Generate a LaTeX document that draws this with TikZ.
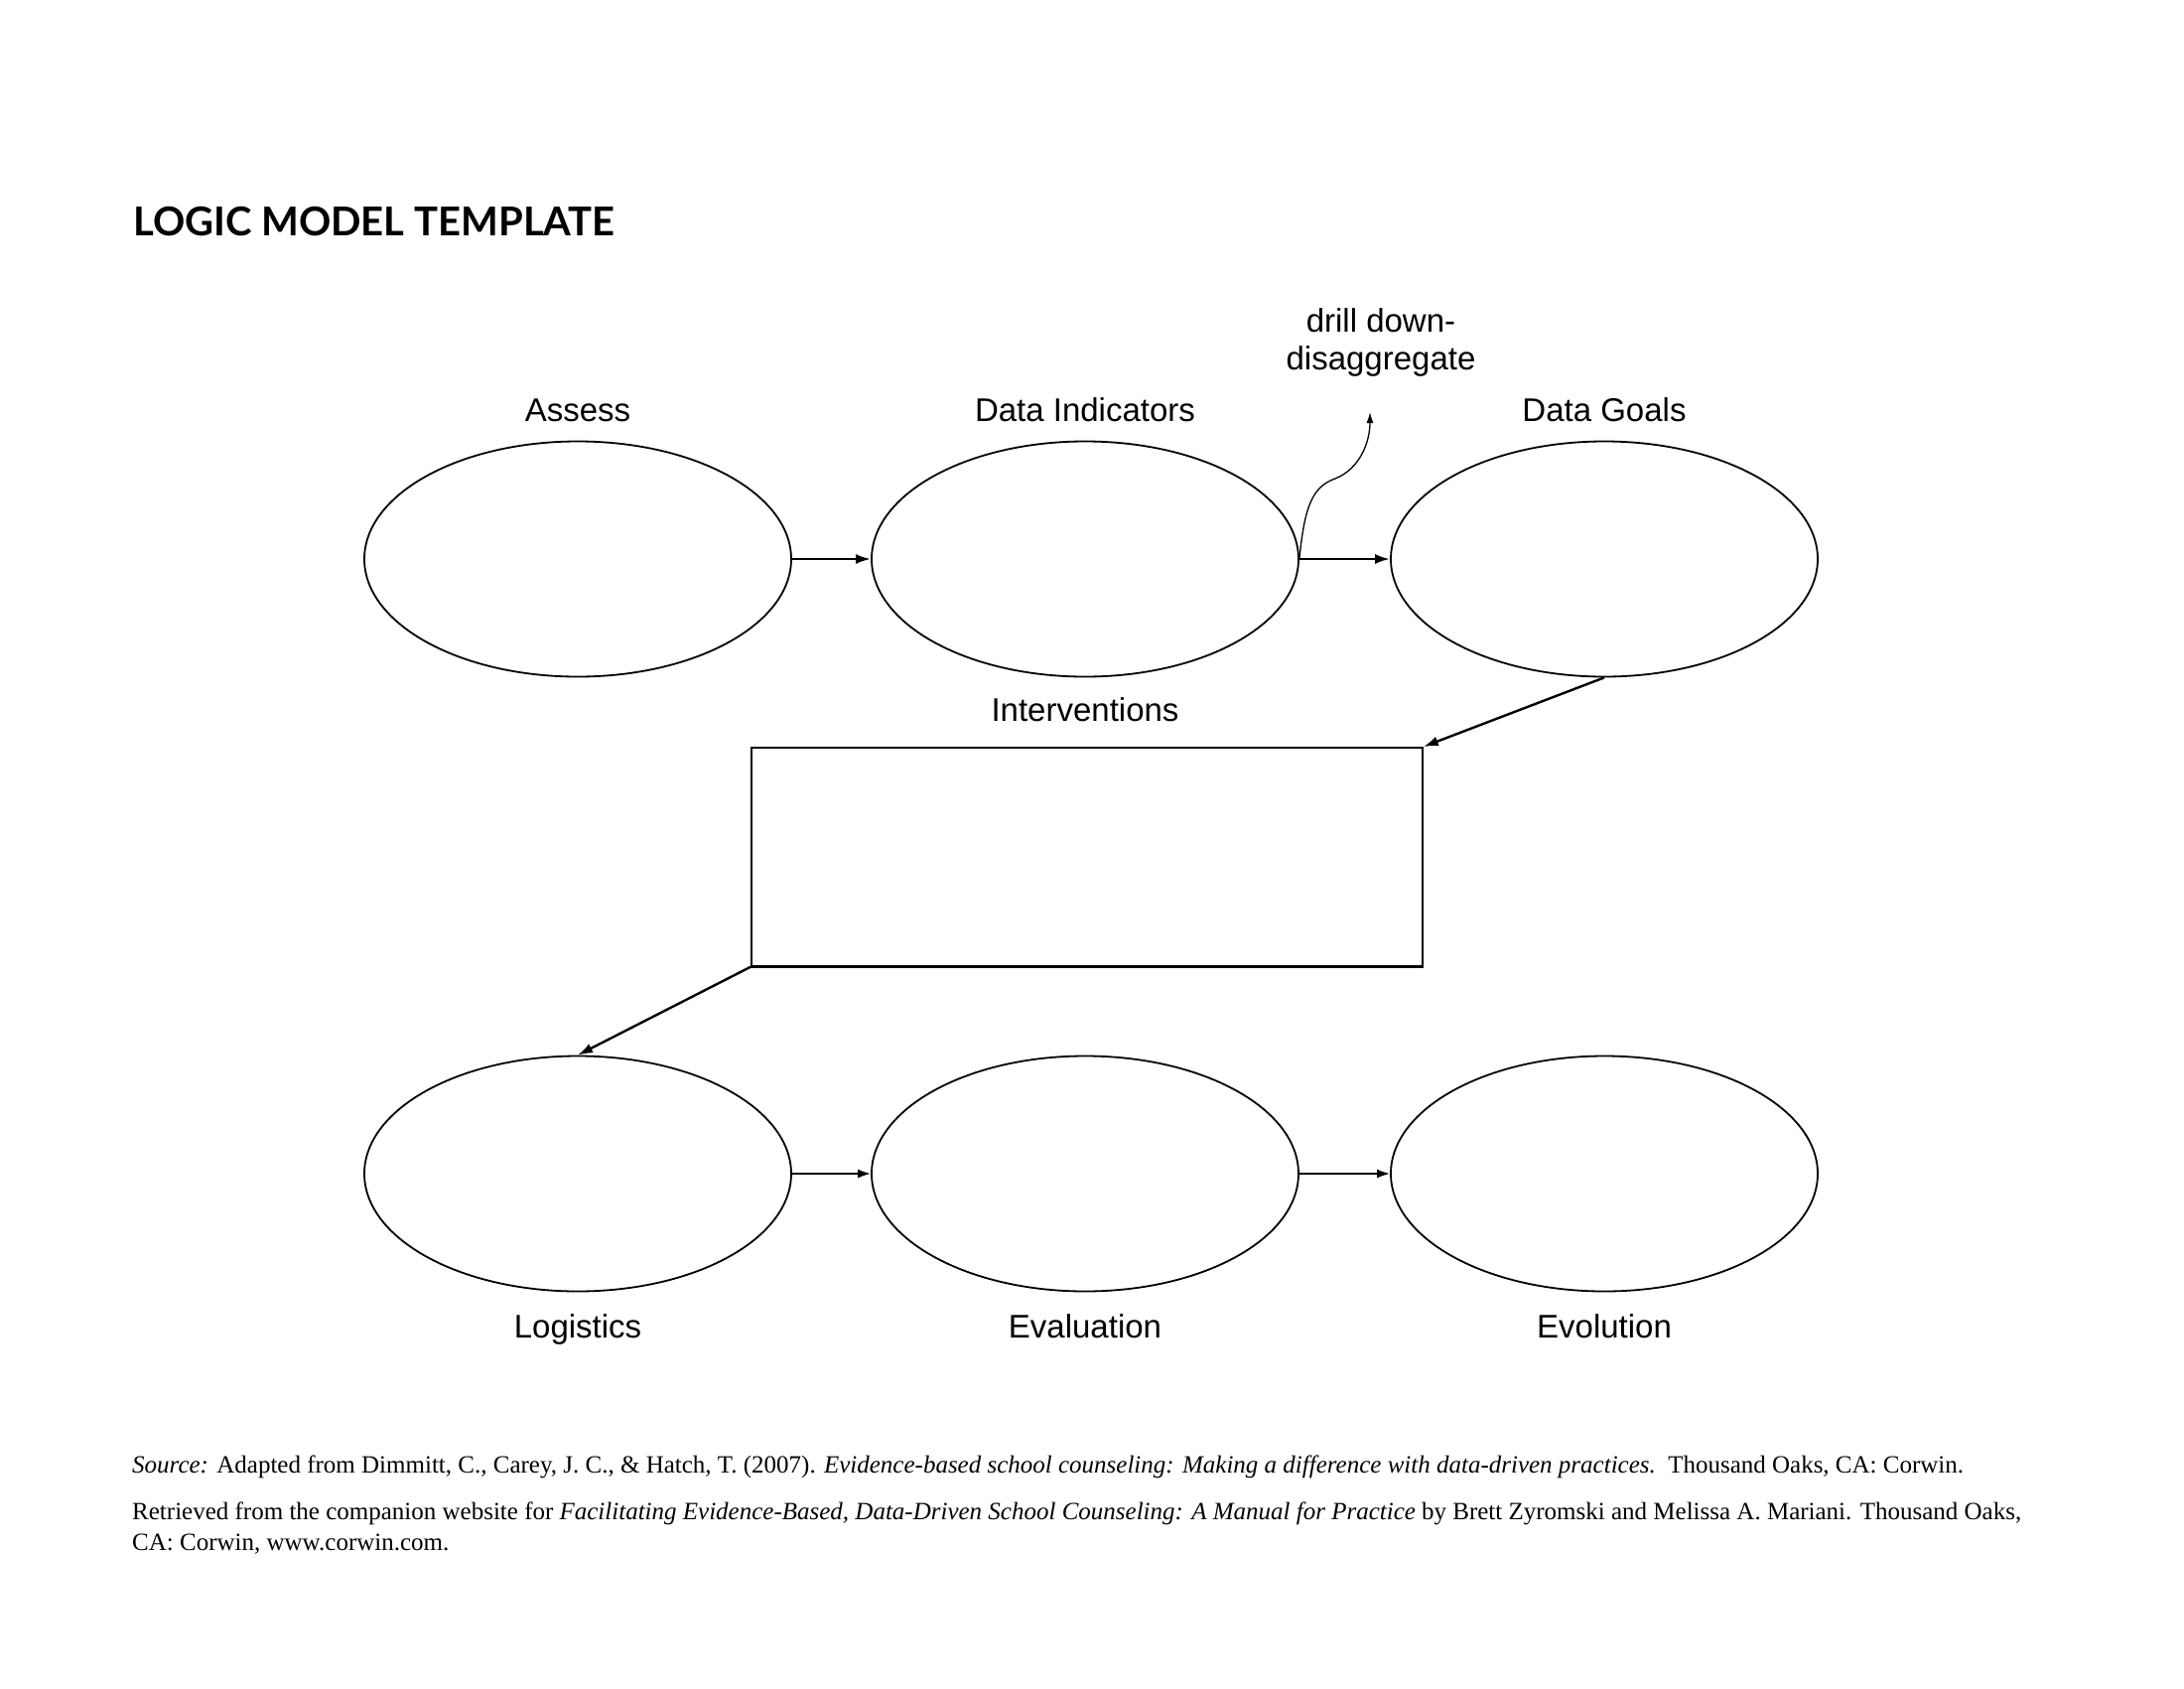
\documentclass[tikz,border=0pt]{standalone}
\usepackage{fontspec}
\setmainfont{Liberation Serif}
\newfontfamily\labfont{Liberation Sans}
\newfontfamily\titlefont{Lato}
\usetikzlibrary{shapes.geometric,arrows.meta}
\begin{document}
\begin{tikzpicture}[x=1pt,y=-1pt,
  oval/.style={ellipse,draw,line width=1.8pt,minimum width=430pt,minimum height=237pt,inner sep=0pt},
  lab/.style={font=\labfont\fontsize{33}{38}\selectfont,anchor=base,inner sep=0pt},
  conn/.style={-{Latex[length=15pt,width=10pt]},line width=2.4pt},
  thinconn/.style={-{Latex[length=13pt,width=9pt]},line width=1.6pt},
  foot/.style={font=\fontsize{25}{31}\selectfont,anchor=base west,inner sep=0pt,align=left}]
\useasboundingbox[fill=white] (0,0) rectangle (2200,1700);
\node[font=\titlefont\bfseries\fontsize{40}{44}\selectfont,anchor=base west,inner sep=0pt] (title) at (134,237) {LOGIC MODEL TEMPLATE};
% top row
\node[oval] (assess) at (582,563) {};
\node[oval] (ind) at (1093,563) {};
\node[oval] (goals) at (1616,563) {};
\node[lab] (lassess) at (582,424) {Assess};
\node[lab] (lind) at (1093,424) {Data Indicators};
\node[lab] (lgoals) at (1616,424) {Data Goals};
\node[lab,align=center] (ldrill) at (1391,372) {drill down-\\disaggregate};
\draw[conn] (assess.east) -- (ind.west);
\draw[conn] (ind.east) -- (goals.west);
\coordinate (drilltip) at (1380,415);
\draw[-{Latex[length=11pt,width=7pt]},line width=1.3pt] (ind.east) .. controls (1314,510) and (1322,490) .. (1345,482) .. controls (1370,472) and (1380,445) .. (drilltip);
% interventions
\node[draw,line width=1.8pt,minimum width=676pt,minimum height=220pt,inner sep=0pt,anchor=north west] (interv) at (756,752) {};
\draw[line width=3pt] (interv.south west) -- (interv.south east);
\node[lab] (linterv) at (1093,726) {Interventions};
\draw[conn] (goals.south) -- (interv.north east);
% bottom row
\node[oval] (logi) at (582,1182) {};
\node[oval] (eval) at (1093,1182) {};
\node[oval] (evol) at (1616,1182) {};
\draw[conn] (interv.south west) -- (logi.north);
\draw[thinconn] (logi.east) -- (eval.west);
\draw[thinconn] (eval.east) -- (evol.west);
\node[lab] (llogi) at (582,1347) {Logistics};
\node[lab] (leval) at (1093,1347) {Evaluation};
\node[lab] (levol) at (1616,1347) {Evolution};
% footer
\node[foot] (src) at (133,1483) {\textit{Source:} Adapted from Dimmitt, C., Carey, J. C., \& Hatch, T. (2007). \textit{Evidence-based school counseling: Making a difference with data-driven practices.}\ \ Thousand Oaks, CA: Corwin.};
\node[foot] (ret) at (133,1561) {Retrieved from the companion website for \textit{Facilitating Evidence-Based, Data-Driven School Counseling: A Manual for Practice} by Brett Zyromski and Melissa A. Mariani. Thousand Oaks,\\CA: Corwin, www.corwin.com.};
\end{tikzpicture}
\end{document}
